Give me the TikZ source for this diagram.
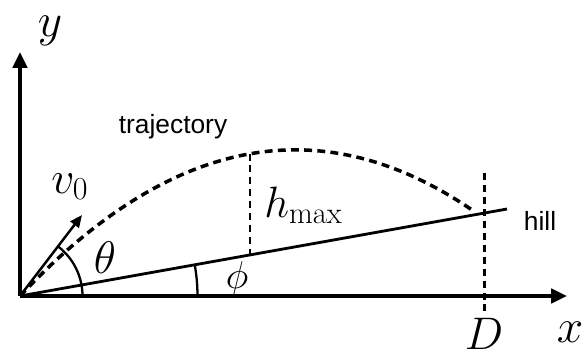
\RequirePackage{fix-cm}
\documentclass[tikz,border=0pt]{standalone}
\usepackage{fontspec}
\newfontfamily\labelfont{Liberation Sans}
\usetikzlibrary{arrows.meta}

\begin{document}
\begin{tikzpicture}[
    >={Triangle[length=9pt, width=8pt]},
    axis/.style={->, line width=2.3pt},
    slope/.style={line width=1.6pt},
    traj/.style={line width=2pt, dash pattern=on 4.5pt off 3pt},
    guide/.style={line width=1.7pt, dash pattern=on 4pt off 2.8pt},
    angarc/.style={line width=1.3pt},
    mathlbl/.style={font=\fontsize{27}{30}\selectfont, inner sep=0pt, anchor=base},
    txtlbl/.style={font=\labelfont\fontsize{15}{18}\selectfont, inner sep=0pt, anchor=base}
  ]
  \useasboundingbox (-0.4,-1.2) rectangle (11.3,5.92);

  % Punti
  \coordinate (O)      at (0,0);
  \coordinate (ytop)   at (0,4.88);
  \coordinate (xend)   at (10.94,0);
  \coordinate (hillend) at (9.74,1.74);
  \coordinate (land)   at (9.1,1.68);
  \coordinate (vtip)   at (1.24,1.62);
  \coordinate (htop)   at (4.6,2.85);
  \coordinate (hfoot)  at (4.6,0.82);
  \coordinate (Dtop)   at (9.28,2.46);
  \coordinate (Dbot)   at (9.28,-0.32);

  % Assi
  \draw[axis] (O) -- (ytop);
  \draw[axis] (O) -- (xend);

  % Collina e traiettoria
  \draw[slope] (O) -- (hillend);
  \draw[traj] (O) .. controls (3.03,3.22) and (6.07,3.78) .. (land);

  % Linee guida
  \draw[guide] (htop) -- (hfoot);
  \draw[guide] (Dtop) -- (Dbot);

  % Velocita iniziale
  \draw[->, >={Triangle[length=7pt, width=6pt]}, line width=1.4pt] (O) -- (vtip);

  % Angoli
  \draw[angarc] (1.25,0) arc[start angle=0, end angle=52.6, radius=1.25];
  \draw[angarc] (3.55,0) arc[start angle=0, end angle=10.13, radius=3.55];

  % Etichette
  \node[mathlbl] (ylbl) at (0.6,5.2) {$y$};
  \node[mathlbl] (xlbl) at (11.0,-0.92) {$x$};
  \node[mathlbl, font=\fontsize{26}{30}\selectfont] (Dlbl) at (9.28,-1.06) {$D$};
  \node[mathlbl, font=\fontsize{26}{30}\selectfont] (thlbl) at (1.7,0.46) {$\theta$};
  \node[mathlbl, font=\fontsize{22}{26}\selectfont] (philbl) at (4.34,0.16) {$\phi$};
  \node[mathlbl, anchor=base west, font=\fontsize{26}{30}\selectfont] (vlbl) at (0.62,2.06) {$v_0$};
  \node[mathlbl, anchor=base west, font=\fontsize{25}{30}\selectfont] (hlbl) at (4.88,1.58) {$h_{\max}$};
  \node[txtlbl] (trajlbl) at (3.06,3.26) {trajectory};
  \node[txtlbl] (hilllbl) at (10.4,1.32) {hill};

\end{tikzpicture}
\end{document}
